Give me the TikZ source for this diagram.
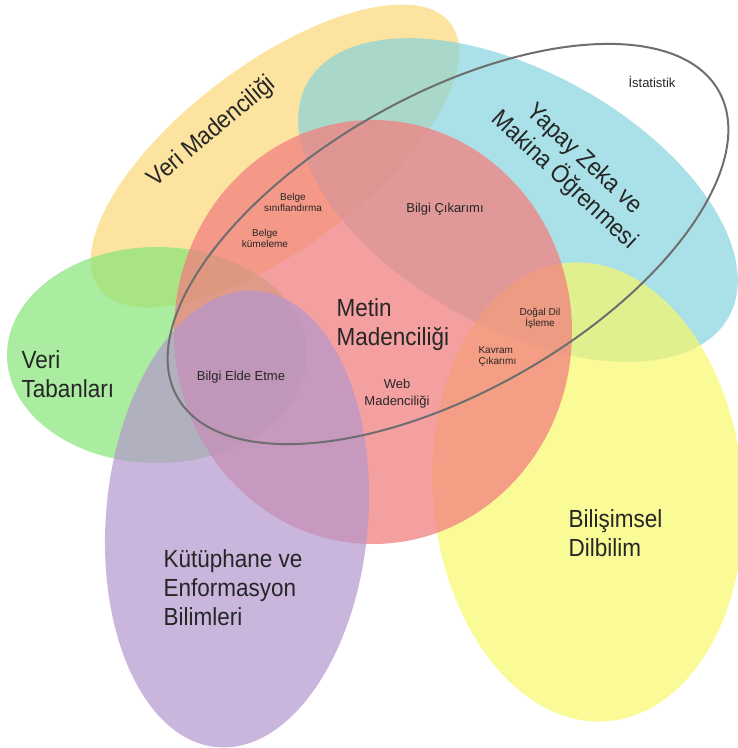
\documentclass[tikz,border=0pt]{standalone}
\usepackage{fontspec}
\usepackage{graphicx}
\setmainfont{Liberation Sans}
\newcommand{\tl}[1]{\scalebox{1}[1.1]{#1}}
\begin{document}
\begin{tikzpicture}[x=1pt,y=-1pt,
  blob/.style={fill opacity=0.7},
  big/.style={font=\fontsize{22.5}{29}\selectfont, align=left, text=black!85},
  small/.style={font=\fontsize{10}{11}\selectfont, align=center, text=black!85},
  mid/.style={font=\fontsize{13}{17}\selectfont, align=center, text=black!85}]
\definecolor{cOrange}{RGB}{251,215,119}
\definecolor{cCyan}{RGB}{134,212,222}
\definecolor{cGreen}{RGB}{134,228,119}
\definecolor{cYellow}{RGB}{248,248,105}
\definecolor{cRed}{RGB}{242,128,128}
\definecolor{cPurple}{RGB}{179,151,205}
\definecolor{cGray}{RGB}{110,110,110}
\useasboundingbox (0,0) rectangle (738,748);
\clip (0,0) rectangle (738,748);
% Veri Madenciligi
\fill[cOrange, blob, rotate around={37:(275,156)}] (275,156) ellipse [x radius=220, y radius=92];
% Yapay Zeka
\fill[cCyan, blob, rotate around={-29:(518,200)}] (518,200) ellipse [x radius=241, y radius=128];
% Veri Tabanlari
\fill[cGreen, blob] (157,355) ellipse [x radius=150, y radius=108];
% Bilisimsel Dilbilim
\fill[cYellow, blob, rotate around={5:(588,492)}] (588,492) ellipse [x radius=155, y radius=230];
% Metin Madenciligi
\fill[cRed, fill opacity=0.75] (373,332) ellipse [x radius=199, y radius=212];
% Kutuphane
\fill[cPurple, blob, rotate around={-5:(237,519)}] (237,519) ellipse [x radius=131, y radius=229];
% outline
\draw[cGray, line width=2pt, rotate around={29.5:(448,244)}] (448,244) ellipse [x radius=311, y radius=148];

\node[big, rotate=40] (vm) at (212,132) {\tl{Veri Madenciliği}};
\node[big, rotate=-43, align=center] (yz) at (574,170) {\tl{Yapay Zeka ve}\\\tl{Makina Öğrenmesi}};
\node[big, anchor=west] (vt) at (18,374) {\tl{Veri}\\\tl{Tabanları}};
\node[big, anchor=west] (mm) at (333,325) {\tl{Metin}\\\tl{Madenciliği}};
\node[big, anchor=west] (kt) at (160,588) {\tl{Kütüphane ve}\\\tl{Enformasyon}\\\tl{Bilimleri}};
\node[big, anchor=west] (bd) at (565,533) {\tl{Bilişimsel}\\\tl{Dilbilim}};
\node[mid] (ist) at (652,82) {İstatistik};
\node[mid] (bc) at (445,209) {Bilgi Çıkarımı};
\node[mid] (be) at (241,377) {Bilgi Elde Etme};
\node[mid] (wm) at (397,394) {Web\\Madenciliği};
\node[small] (bs) at (293,202) {Belge\\sınıflandırma};
\node[small] (bk) at (265,238) {Belge\\kümeleme};
\node[small] (dd) at (540,318) {Doğal Dil\\İşleme};
\node[small, anchor=west, align=left] (kc) at (475,357) {Kavram\\Çıkarımı};
\end{tikzpicture}
\end{document}
